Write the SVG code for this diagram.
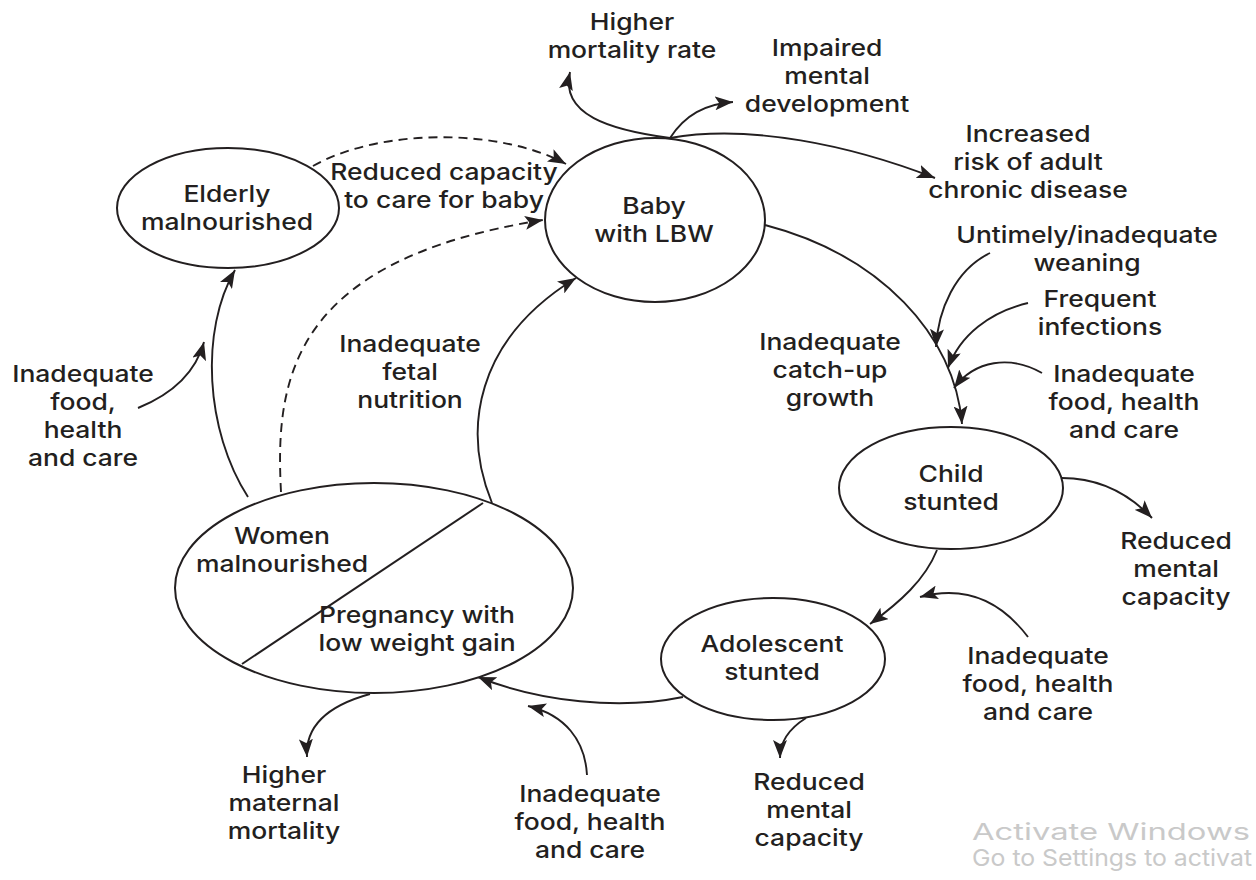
<svg xmlns="http://www.w3.org/2000/svg" width="1256" height="880" viewBox="0 0 1256 880">
<style>
  .n ellipse { fill: #ffffff; stroke: #231f20; stroke-width: 2; }
  text { font-family: Inter, "Open Sans", "Liberation Sans", sans-serif; font-size: 23px; font-weight: 500; fill: #231f20; text-anchor: middle; }
  .c path { fill: none; stroke: #231f20; stroke-width: 1.9; }
  .c path.a { marker-end: url(#ah); }
  .c path.d { stroke-dasharray: 9 6; }
  text.wm { fill: #c9c9c9; text-anchor: start; font-weight: 400; }
</style>
<defs>
  <marker id="ah" markerUnits="userSpaceOnUse" markerWidth="20" markerHeight="14" refX="18" refY="7" orient="auto">
    <path d="M0,0 L18,7 L0,14 L4,7 z" fill="#231f20"/>
  </marker>
</defs>
<rect width="1256" height="880" fill="#ffffff"/>

<g id="connectors" class="c">
  <path class="a" d="M765,225 C880,255 955,335 962,424"/>
  <path class="a" d="M937,550 C925,580 900,602 870,624"/>
  <path class="a" d="M683,697 C620,710 540,702 478,677"/>
  <path class="a" d="M492,503 C462,430 475,340 576,278"/>
  <path class="a" d="M248,497 C205,430 200,330 235,270"/>
  <path class="a d" d="M281,492 C275,380 290,260 543,220"/>
  <path class="a d" d="M313,166 C380,128 500,128 566,164"/>
  <path class="a" d="M670,138 C610,130 560,115 570,72"/>
  <path class="a" d="M670,138 C685,115 705,104 733,102"/>
  <path class="a" d="M670,138 C750,124 850,145 935,178"/>
  <path class="a" d="M990,253 C955,270 938,310 936,347"/>
  <path class="a" d="M1028,303 C990,312 960,335 948,368"/>
  <path class="a" d="M1042,373 C1010,355 975,360 954,388"/>
  <path class="a" d="M1062,478 C1100,478 1130,495 1152,518"/>
  <path class="a" d="M1028,637 C1000,600 965,585 920,597"/>
  <path class="a" d="M806,718 C790,728 780,740 780,758"/>
  <path class="a" d="M587,775 C585,740 565,715 528,706"/>
  <path class="a" d="M370,694 C330,705 305,725 307,757"/>
  <path class="a" d="M138,408 C170,395 195,375 204,342"/>
</g>

<g id="elderly" class="n">
  <ellipse cx="228" cy="208" rx="111" ry="60"/>
  <text transform="translate(227 0) scale(1.15 1)"><tspan x="0" y="202">Elderly</tspan><tspan x="0" y="230">malnourished</tspan></text>
</g>
<g id="baby" class="n">
  <ellipse cx="655" cy="220" rx="110" ry="82"/>
  <text transform="translate(654 0) scale(1.15 1)"><tspan x="0" y="214">Baby</tspan><tspan x="0" y="242">with LBW</tspan></text>
</g>
<g id="child" class="n">
  <ellipse cx="951" cy="488" rx="112" ry="61"/>
  <text transform="translate(951 0) scale(1.15 1)"><tspan x="0" y="482">Child</tspan><tspan x="0" y="510">stunted</tspan></text>
</g>
<g id="adolescent" class="n">
  <ellipse cx="773" cy="659" rx="112" ry="61"/>
  <text transform="translate(772 0) scale(1.15 1)"><tspan x="0" y="652">Adolescent</tspan><tspan x="0" y="680">stunted</tspan></text>
</g>
<g id="women" class="n">
  <ellipse cx="374" cy="588" rx="199" ry="105"/>
  <path d="M483,503 L242,664" fill="none" stroke="#231f20" stroke-width="2"/>
  <text transform="translate(282 0) scale(1.15 1)"><tspan x="0" y="544">Women</tspan><tspan x="0" y="572">malnourished</tspan></text>
  <text transform="translate(417 0) scale(1.15 1)"><tspan x="0" y="623">Pregnancy with</tspan><tspan x="0" y="651">low weight gain</tspan></text>
</g>

<g id="labels">
  <text id="l-mortality" transform="translate(632 0) scale(1.15 1)"><tspan x="0" y="30">Higher</tspan><tspan x="0" y="58">mortality rate</tspan></text>
  <text id="l-impaired" transform="translate(827 0) scale(1.15 1)"><tspan x="0" y="56">Impaired</tspan><tspan x="0" y="84">mental</tspan><tspan x="0" y="112">development</tspan></text>
  <text id="l-chronic" transform="translate(1028 0) scale(1.15 1)"><tspan x="0" y="142">Increased</tspan><tspan x="0" y="170">risk of adult</tspan><tspan x="0" y="198">chronic disease</tspan></text>
  <text id="l-reduced-care" transform="translate(444 0) scale(1.15 1)"><tspan x="0" y="180">Reduced capacity</tspan><tspan x="0" y="208">to care for baby</tspan></text>
  <text id="l-weaning" transform="translate(1087 0) scale(1.15 1)"><tspan x="0" y="243">Untimely/inadequate</tspan><tspan x="0" y="271">weaning</tspan></text>
  <text id="l-infections" transform="translate(1100 0) scale(1.15 1)"><tspan x="0" y="307">Frequent</tspan><tspan x="0" y="335">infections</tspan></text>
  <text id="l-food-child" transform="translate(1124 0) scale(1.15 1)"><tspan x="0" y="382">Inadequate</tspan><tspan x="0" y="410">food, health</tspan><tspan x="0" y="438">and care</tspan></text>
  <text id="l-catchup" transform="translate(830 0) scale(1.15 1)"><tspan x="0" y="350">Inadequate</tspan><tspan x="0" y="378">catch-up</tspan><tspan x="0" y="406">growth</tspan></text>
  <text id="l-mental-child" transform="translate(1176 0) scale(1.15 1)"><tspan x="0" y="549">Reduced</tspan><tspan x="0" y="577">mental</tspan><tspan x="0" y="605">capacity</tspan></text>
  <text id="l-food-adol" transform="translate(1038 0) scale(1.15 1)"><tspan x="0" y="664">Inadequate</tspan><tspan x="0" y="692">food, health</tspan><tspan x="0" y="720">and care</tspan></text>
  <text id="l-mental-adol" transform="translate(809 0) scale(1.15 1)"><tspan x="0" y="790">Reduced</tspan><tspan x="0" y="818">mental</tspan><tspan x="0" y="846">capacity</tspan></text>
  <text id="l-food-women" transform="translate(590 0) scale(1.15 1)"><tspan x="0" y="802">Inadequate</tspan><tspan x="0" y="830">food, health</tspan><tspan x="0" y="858">and care</tspan></text>
  <text id="l-maternal" transform="translate(284 0) scale(1.15 1)"><tspan x="0" y="783">Higher</tspan><tspan x="0" y="811">maternal</tspan><tspan x="0" y="839">mortality</tspan></text>
  <text id="l-fetal" transform="translate(410 0) scale(1.15 1)"><tspan x="0" y="352">Inadequate</tspan><tspan x="0" y="380">fetal</tspan><tspan x="0" y="408">nutrition</tspan></text>
  <text id="l-food-elderly" transform="translate(83 0) scale(1.15 1)"><tspan x="0" y="382">Inadequate</tspan><tspan x="0" y="410">food,</tspan><tspan x="0" y="438">health</tspan><tspan x="0" y="466">and care</tspan></text>
</g>

<g id="watermark">
  <text class="wm" x="972" y="840" font-size="22" textLength="278" lengthAdjust="spacingAndGlyphs">Activate Windows</text>
  <text class="wm" x="972" y="866" font-size="16" textLength="280" lengthAdjust="spacingAndGlyphs">Go to Settings to activat</text>
</g>
</svg>
